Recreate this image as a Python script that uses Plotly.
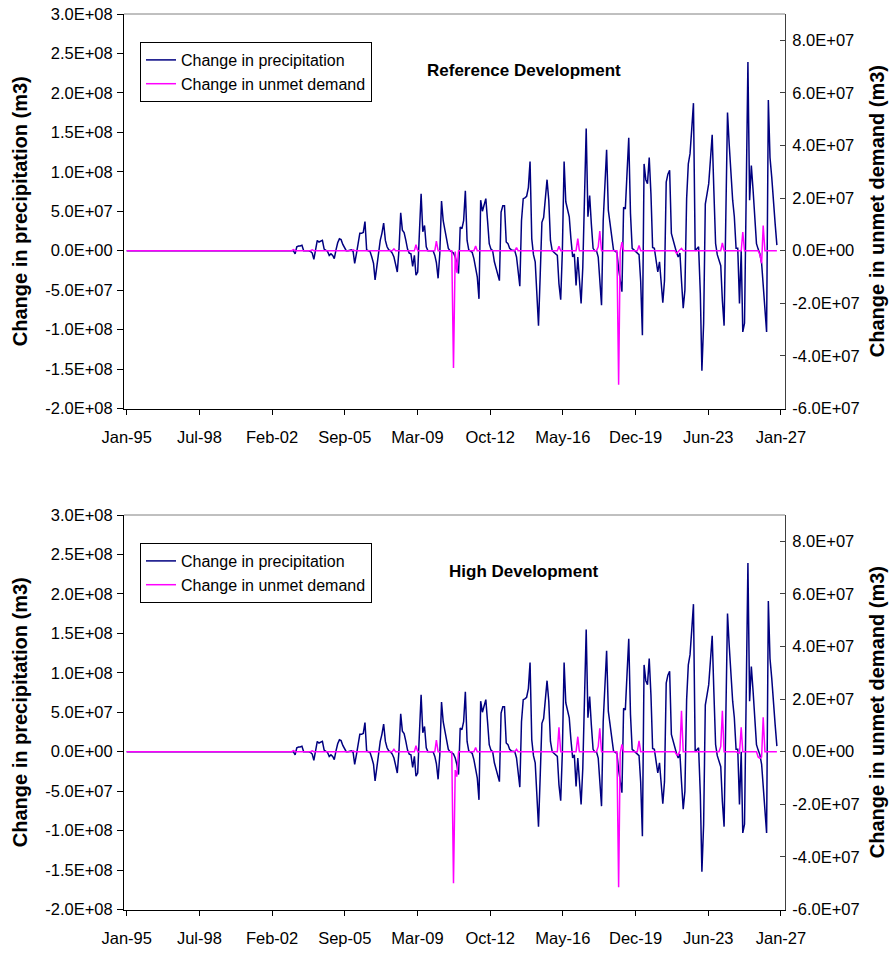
import pandas as pd
import plotly.graph_objects as go

# ---------------------------------------------------------------------------
# Data
# ---------------------------------------------------------------------------
# Monthly change in precipitation (units of 1e7 m3), Jan..Dec.
# Years before 2003 show no change (zero).
precip_1e7 = {
    2003: [0.0, 0.0, 0.0, -0.4, 0.5, 0.6, 0.6, 0.7, 0.0, 0.0, 0.0, 0.0],
    2004: [-0.1, -0.3, -1.1, 0.1, 1.3, 1.1, 1.2, 1.3, 0.2, 0.0, -0.1, -0.6],
    2005: [-0.4, -0.6, -1.0, 0.1, 1.0, 1.5, 1.4, 0.8, 0.3, 0.0, 0.0, 0.1],
    2006: [0.1, -0.1, -1.6, -0.4, 0.7, 2.2, 2.2, 2.3, 3.7, 0.1, 0.0, -0.1],
    2007: [-0.8, -1.6, -3.7, -1.8, 0.0, 1.3, 2.2, 3.5, 1.3, 0.5, 0.1, 0.0],
    2008: [-0.3, -0.8, -1.7, -2.7, 0.1, 4.8, 2.6, 2.3, 1.3, 0.2, -0.3, -0.4],
    2009: [-2.0, -0.6, -3.1, -2.7, 2.2, 7.2, 2.4, 3.2, 0.5, 0.0, 0.0, 0.0],
    2010: [0.0, -0.6, -1.5, -3.5, -0.4, 6.3, 3.8, 2.6, 1.3, 0.3, 0.0, -0.2],
    2011: [-0.3, -0.8, -1.6, -2.9, 3.0, 2.8, 3.8, 7.6, 1.3, 0.1, 0.0, -0.2],
    2012: [-1.0, -2.2, -3.3, -6.1, 6.4, 5.0, 5.8, 6.6, 3.8, 0.9, 0.2, 0.0],
    2013: [-1.4, -2.3, -3.0, -3.8, 4.9, 5.7, 5.7, 1.1, 0.9, 0.3, 0.1, 0.0],
    2014: [0.0, -0.8, -2.5, -4.5, 3.8, 6.6, 6.7, 6.9, 8.0, 11.3, 1.5, -0.5],
    2015: [-1.4, -5.0, -9.5, -3.0, 3.6, 4.2, 6.5, 9.0, 6.4, 1.3, 0.0, -0.2],
    2016: [-0.5, -0.6, -4.2, -6.2, 0.0, 11.3, 6.2, 5.2, 4.3, 1.5, -0.8, -0.4],
    2017: [-4.4, -0.8, -3.7, -6.7, -2.1, 5.5, 15.5, 4.3, 7.0, 3.4, 0.3, 0.0],
    2018: [0.0, -0.8, -3.3, -6.9, 3.8, 8.3, 12.8, 5.1, 3.4, 1.5, 0.1, -0.1],
    2019: [-0.2, -2.3, -3.8, -5.2, 5.5, 5.3, 9.8, 14.3, 4.7, 0.3, 0.1, -0.1],
    2020: [-0.3, -0.5, -3.8, -10.7, 11.0, 9.0, 8.5, 11.8, 7.2, 0.4, 0.3, -1.2],
    2021: [-2.7, -1.4, -4.0, -6.6, -3.8, 8.7, 9.7, 10.2, 2.2, 1.3, 0.3, -0.2],
    2022: [-0.8, -0.3, -3.8, -7.3, -5.0, 6.6, 11.0, 12.3, 15.5, 18.7, 0.0, 0.2],
    2023: [0.5, -5.4, -15.2, -9.2, 5.9, 7.2, 8.5, 11.6, 14.7, 7.6, 0.9, -0.5],
    2024: [-1.2, -1.9, -6.3, -9.5, 4.0, 17.5, 13.5, 9.5, 6.4, 4.3, 0.3, 0.3],
    2025: [-6.7, 0.0, -10.3, -9.2, 7.3, 23.9, 6.4, 10.8, 7.7, 4.7, 0.9, 0.2],
    2026: [-0.4, -1.6, -4.5, -7.4, -10.3, 19.1, 11.8, 9.3, 6.8, 3.4, 0.7],
}

# Monthly change in unmet demand (units of 1e6 m3); months not listed are zero.
unmet_reference_1e6 = {
    "2003-03": 0.4, "2004-02": 0.3, "2006-02": 0.3, "2008-02": 0.7,
    "2009-03": 2.3, "2010-03": 3.6,
    "2011-01": -44.6, "2011-02": -0.3, "2011-03": -8.4,
    "2012-02": 1.8, "2014-02": 1.2, "2016-03": 1.7, "2017-02": 4.6,
    "2018-02": 1.5, "2018-03": 7.5,
    "2019-02": -51.0, "2019-03": -0.3, "2019-04": 3.3,
    "2020-02": 2.0,
    "2021-12": -1.0, "2022-01": -0.4, "2022-02": 0.2, "2022-03": 0.9,
    "2024-03": 3.0, "2025-03": 7.1,
    "2026-01": -1.5, "2026-02": -4.8, "2026-03": 9.6,
}
unmet_high_1e6 = {
    "2003-03": 0.4, "2004-02": 0.3, "2006-02": 0.3, "2008-02": 0.9,
    "2009-03": 2.3, "2010-03": 4.4,
    "2011-01": -50.0, "2011-02": -7.0, "2011-03": -9.5,
    "2012-02": 1.6, "2014-02": 0.9, "2016-03": 9.3, "2017-02": 5.7,
    "2018-02": 2.0, "2018-03": 8.9,
    "2019-02": -51.5, "2019-03": -0.5, "2019-04": 2.8,
    "2020-02": 4.1,
    "2021-12": -1.0, "2022-01": -1.3, "2022-02": 0.5, "2022-03": 15.6,
    "2024-02": 2.0, "2024-03": 15.6,
    "2024-12": -0.3, "2025-01": -0.5, "2025-02": 9.3,
    "2025-12": -2.0, "2026-01": -2.5, "2026-02": -2.0, "2026-03": 13.1,
}

panel_titles = ["Reference Development", "High Development"]
series_names = ["Change in precipitation", "Change in unmet demand"]

left_ticks = [3.0e8, 2.5e8, 2.0e8, 1.5e8, 1.0e8, 5.0e7, 0.0, -5.0e7, -1.0e8, -1.5e8, -2.0e8]
left_labels = ["3.0E+08", "2.5E+08", "2.0E+08", "1.5E+08", "1.0E+08", "5.0E+07",
               "0.0E+00", "-5.0E+07", "-1.0E+08", "-1.5E+08", "-2.0E+08"]
right_ticks = [8.0e7, 6.0e7, 4.0e7, 2.0e7, 0.0, -2.0e7, -4.0e7, -6.0e7]
right_labels = ["8.0E+07", "6.0E+07", "4.0E+07", "2.0E+07", "0.0E+00",
                "-2.0E+07", "-4.0E+07", "-6.0E+07"]

# ---------------------------------------------------------------------------
# Monthly series
# ---------------------------------------------------------------------------
months = pd.date_range("1995-01-01", "2026-11-01", freq="MS")


def precip_value(d):
    row = precip_1e7.get(d.year)
    if row is None or d.month > len(row):
        return 0.0
    return row[d.month - 1] * 1e7


precip = [precip_value(d) for d in months]
unmet_series = [
    [unmet_reference_1e6.get(d.strftime("%Y-%m"), 0.0) * 1e6 for d in months],
    [unmet_high_1e6.get(d.strftime("%Y-%m"), 0.0) * 1e6 for d in months],
]

# ---------------------------------------------------------------------------
# Figure
# ---------------------------------------------------------------------------
W, H = 889, 954
FONT = "Liberation Sans, Arial, sans-serif"
NAVY = "#000080"
MAGENTA = "#FF00FF"

x_dom = [124 / W, 785 / W]
panels_px = [(14.0, 408.5), (515.0, 909.5)]  # (top, bottom) of each plot area
y_doms = [[1 - b / H, 1 - t / H] for t, b in panels_px]

fig = go.Figure()
layout = dict(
    width=W, height=H,
    margin=dict(l=0, r=0, t=0, b=0, autoexpand=False),
    paper_bgcolor="white", plot_bgcolor="white",
    font=dict(family=FONT, size=16.5, color="black"),
    showlegend=True,
    annotations=[], shapes=[],
)

for i in range(2):
    xa = "x" if i == 0 else "x2"
    ya_l = "y" if i == 0 else "y3"
    ya_r = "y2" if i == 0 else "y4"
    legend_name = "legend" if i == 0 else "legend2"

    fig.add_trace(go.Scatter(
        x=months, y=precip, name=series_names[0], mode="lines",
        line=dict(color=NAVY, width=1.5), xaxis=xa, yaxis=ya_l,
        legend=legend_name,
    ))
    fig.add_trace(go.Scatter(
        x=months, y=unmet_series[i], name=series_names[1], mode="lines",
        line=dict(color=MAGENTA, width=1.5), xaxis=xa, yaxis=ya_r,
        legend=legend_name,
    ))

    xkey = "xaxis" if i == 0 else "xaxis2"
    ylkey = "yaxis" if i == 0 else "yaxis3"
    yrkey = "yaxis2" if i == 0 else "yaxis4"

    layout[xkey] = dict(
        domain=x_dom, anchor=ya_l, type="date", automargin=False,
        range=["1994-11-14", "2027-03-26"],
        tick0="1995-01-01", dtick=1300 * 86400000, tickformat="%b-%y",
        ticks="outside", ticklen=5, tickcolor="black", tickwidth=1,
        ticklabelstandoff=9,
        showline=True, linecolor="black", linewidth=1,
        showgrid=False, zeroline=False,
        tickfont=dict(family=FONT, size=16.5, color="black"),
    )
    layout[ylkey] = dict(
        domain=y_doms[i], anchor=xa, range=[-2.0e8, 3.0e8], automargin=False,
        tickmode="array", tickvals=left_ticks, ticktext=left_labels,
        ticks="outside", ticklen=6, tickcolor="black", tickwidth=1,
        ticklabelstandoff=1,
        showline=True, linecolor="black", linewidth=1,
        showgrid=False, zeroline=False,
        tickfont=dict(family=FONT, size=16.5, color="black"),
    )
    layout[yrkey] = dict(
        overlaying=ya_l, side="right", anchor=xa, range=[-6.0e7, 9.0e7],
        automargin=False,
        tickmode="array", tickvals=right_ticks, ticktext=right_labels,
        ticks="inside", ticklen=5, tickcolor="#404040", tickwidth=1,
        ticklabelstandoff=3,
        showline=True, linecolor="#404040", linewidth=1,
        showgrid=False, zeroline=False,
        tickfont=dict(family=FONT, size=16.5, color="black"),
    )

    top_px, bot_px = panels_px[i]
    mid_y = 1 - (top_px + bot_px) / 2 / H

    layout[legend_name] = dict(
        x=140 / W, y=1 - (top_px + 28.0) / H, xanchor="left", yanchor="top",
        bgcolor="white", bordercolor="black", borderwidth=1,
        font=dict(family=FONT, size=16, color="black"),
        traceorder="normal", tracegroupgap=0,
    )

    # plot-area frame along the top edge
    layout["shapes"].append(dict(
        type="line", xref=f"{xa} domain", yref=f"{ya_l} domain",
        x0=0, x1=1, y0=1, y1=1, line=dict(color="#808080", width=1),
    ))

    layout["annotations"] += [
        dict(text=f"<b>{panel_titles[i]}</b>", xref="paper", yref="paper",
             x=524 / W, y=1 - (top_px + 56) / H, showarrow=False,
             xanchor="center", yanchor="middle",
             font=dict(family=FONT, size=17, color="black")),
        dict(text="<b>Change in precipitation (m3)</b>", xref="paper", yref="paper",
             x=20 / W, y=mid_y, textangle=-90, showarrow=False,
             xanchor="center", yanchor="middle",
             font=dict(family=FONT, size=20, color="black")),
        dict(text="<b>Change in unmet demand (m3)</b>", xref="paper", yref="paper",
             x=877 / W, y=mid_y, textangle=-90, showarrow=False,
             xanchor="center", yanchor="middle",
             font=dict(family=FONT, size=20, color="black")),
    ]

fig.update_layout(**layout)
fig.write_html("out.html")
